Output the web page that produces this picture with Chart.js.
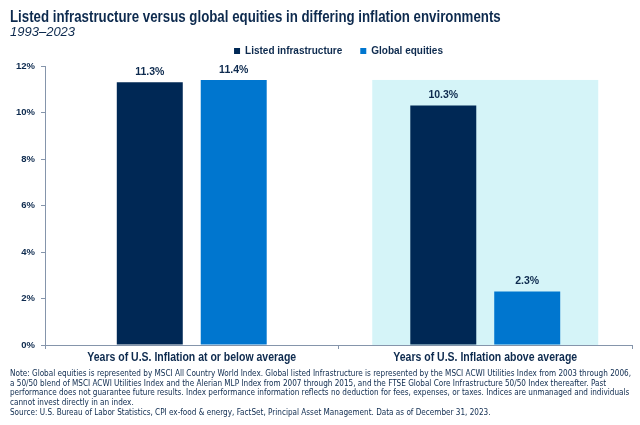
<!DOCTYPE html>
<html>
<head>
<meta charset="utf-8">
<script src="https://cdn.jsdelivr.net/npm/chart.js@4.4.1/dist/chart.umd.min.js"></script>
<style>
  html,body{margin:0;padding:0;background:#fff;}
  #wrap{position:relative;width:640px;height:425px;overflow:hidden;font-family:"Liberation Sans",Arial,sans-serif;}
  #cv{position:absolute;left:0;top:0;}
  #title{position:absolute;left:10px;top:8px;font-size:16px;font-weight:bold;color:#0d2a4e;white-space:nowrap;transform:scaleX(0.83);transform-origin:0 0;}
  #sub{position:absolute;left:10px;top:24px;font-size:13px;font-style:italic;color:#0d2a4e;white-space:nowrap;}
  #note{position:absolute;left:10px;top:369px;font-family:"DejaVu Sans Condensed","DejaVu Sans",sans-serif;font-size:8.1px;line-height:9.7px;color:#0d2a4e;white-space:nowrap;}
</style>
</head>
<body>
<div id="wrap">
  <canvas id="cv" width="640" height="425"></canvas>
  <div id="title">Listed infrastructure versus global equities in differing inflation environments</div>
  <div id="sub">1993–2023</div>
  <div id="note">Note: Global equities is represented by MSCI All Country World Index. Global listed Infrastructure is represented by the MSCI ACWI Utilities Index from 2003 through 2006,<br>a 50/50 blend of MSCI ACWI Utilities Index and the Alerian MLP Index from 2007 through 2015, and the FTSE Global Core Infrastructure 50/50 Index thereafter. Past<br>performance does not guarantee future results. Index performance information reflects no deduction for fees, expenses, or taxes. Indices are unmanaged and individuals<br>cannot invest directly in an index.<br>Source: U.S. Bureau of Labor Statistics, CPI ex-food &amp; energy, FactSet, Principal Asset Management. Data as of December 31, 2023.</div>
</div>
<script>
const categories = ["Years of U.S. Inflation at or below average", "Years of U.S. Inflation above average"];
const seriesNames = ["Listed infrastructure", "Global equities"];
const listedInfrastructure = [11.3, 10.3];
const globalEquities = [11.4, 2.3];
const highlightTop = [null, 11.4];
const yTicks = [0, 2, 4, 6, 8, 10, 12];

const NAVY = "#002855", BLUE = "#0076CF", SHADE = "#d5f4f8", TXT = "#0d2a4e", AXIS = "#8595ab";
const SANS = "'Liberation Sans', Arial, sans-serif";

const shadePlugin = {
  id: "shade",
  beforeDatasetsDraw(chart) {
    const {ctx, scales: {x, y}} = chart;
    const catW = (x.right - x.left) / categories.length;
    highlightTop.forEach((v, i) => {
      if (v == null) return;
      const cx = x.getPixelForValue(i);
      const top = y.getPixelForValue(v), bot = y.getPixelForValue(0);
      ctx.save();
      ctx.fillStyle = SHADE;
      ctx.fillRect(cx - catW * 0.385, top, catW * 0.77, bot - top);
      ctx.restore();
    });
  }
};

const labelPlugin = {
  id: "vlabels",
  afterDatasetsDraw(chart) {
    const {ctx} = chart;
    ctx.save();
    ctx.font = "bold 10.5px " + SANS;
    ctx.fillStyle = TXT;
    ctx.textAlign = "center";
    ctx.textBaseline = "bottom";
    chart.data.datasets.forEach((ds, di) => {
      chart.getDatasetMeta(di).data.forEach((bar, i) => {
        ctx.fillText(ds.data[i].toFixed(1) + "%", bar.x, bar.y - 5);
      });
    });
    ctx.restore();
  }
};

// category labels drawn condensed (narrow face) under the x axis
const catLabelPlugin = {
  id: "catlabels",
  afterDraw(chart) {
    const {ctx, scales: {x}} = chart;
    ctx.save();
    ctx.font = "bold 12.5px " + SANS;
    ctx.fillStyle = TXT;
    ctx.textAlign = "center";
    ctx.textBaseline = "middle";
    chart.data.labels.forEach((lab, i) => {
      ctx.save();
      ctx.translate(x.getPixelForValue(i), x.top + 13);
      ctx.scale(0.84, 1);
      ctx.fillText(lab, 0, 0);
      ctx.restore();
    });
    ctx.restore();
  }
};

// center the legend over the plot area instead of the whole canvas
const legendCenterPlugin = {
  id: "legendCenter",
  afterLayout(chart) {
    const lg = chart.legend, ca = chart.chartArea;
    if (!lg) return;
    const dx = (ca.left + ca.right) / 2 - (lg.left + lg.right) / 2;
    lg.left += dx;
    lg.right += dx;
  }
};

new Chart(document.getElementById("cv"), {
  type: "bar",
  data: {
    labels: categories,
    datasets: [
      {label: seriesNames[0], data: listedInfrastructure, backgroundColor: NAVY},
      {label: seriesNames[1], data: globalEquities, backgroundColor: BLUE}
    ]
  },
  options: {
    responsive: false,
    animation: false,
    devicePixelRatio: 1,
    layout: {padding: {top: 28, right: 8, left: 0, bottom: 0}},
    plugins: {
      legend: {
        display: true,
        position: "top",
        labels: {
          boxWidth: 6, boxHeight: 6, padding: 18,
          color: TXT,
          font: {family: SANS, size: 10, weight: "bold"}
        }
      },
      tooltip: {enabled: false}
    },
    datasets: {bar: {categoryPercentage: 0.572, barPercentage: 0.786}},
    scales: {
      x: {
        grid: {display: true, offset: true, drawOnChartArea: false, drawTicks: true, tickLength: 4, color: AXIS},
        border: {display: true, color: AXIS},
        ticks: {display: false},
        afterFit(s) { s.height = 80; }
      },
      y: {
        min: 0, max: 12,
        afterBuildTicks(s) { s.ticks = yTicks.map(v => ({value: v})); },
        grid: {display: true, drawOnChartArea: false, drawTicks: true, tickLength: 4, color: AXIS},
        border: {display: true, color: AXIS},
        ticks: {color: TXT, padding: 6, callback: v => v + "%", font: {family: SANS, size: 9.5, weight: "bold"}},
        afterFit(s) { s.width = 45; }
      }
    }
  },
  plugins: [shadePlugin, labelPlugin, catLabelPlugin, legendCenterPlugin]
});
</script>
</body>
</html>
